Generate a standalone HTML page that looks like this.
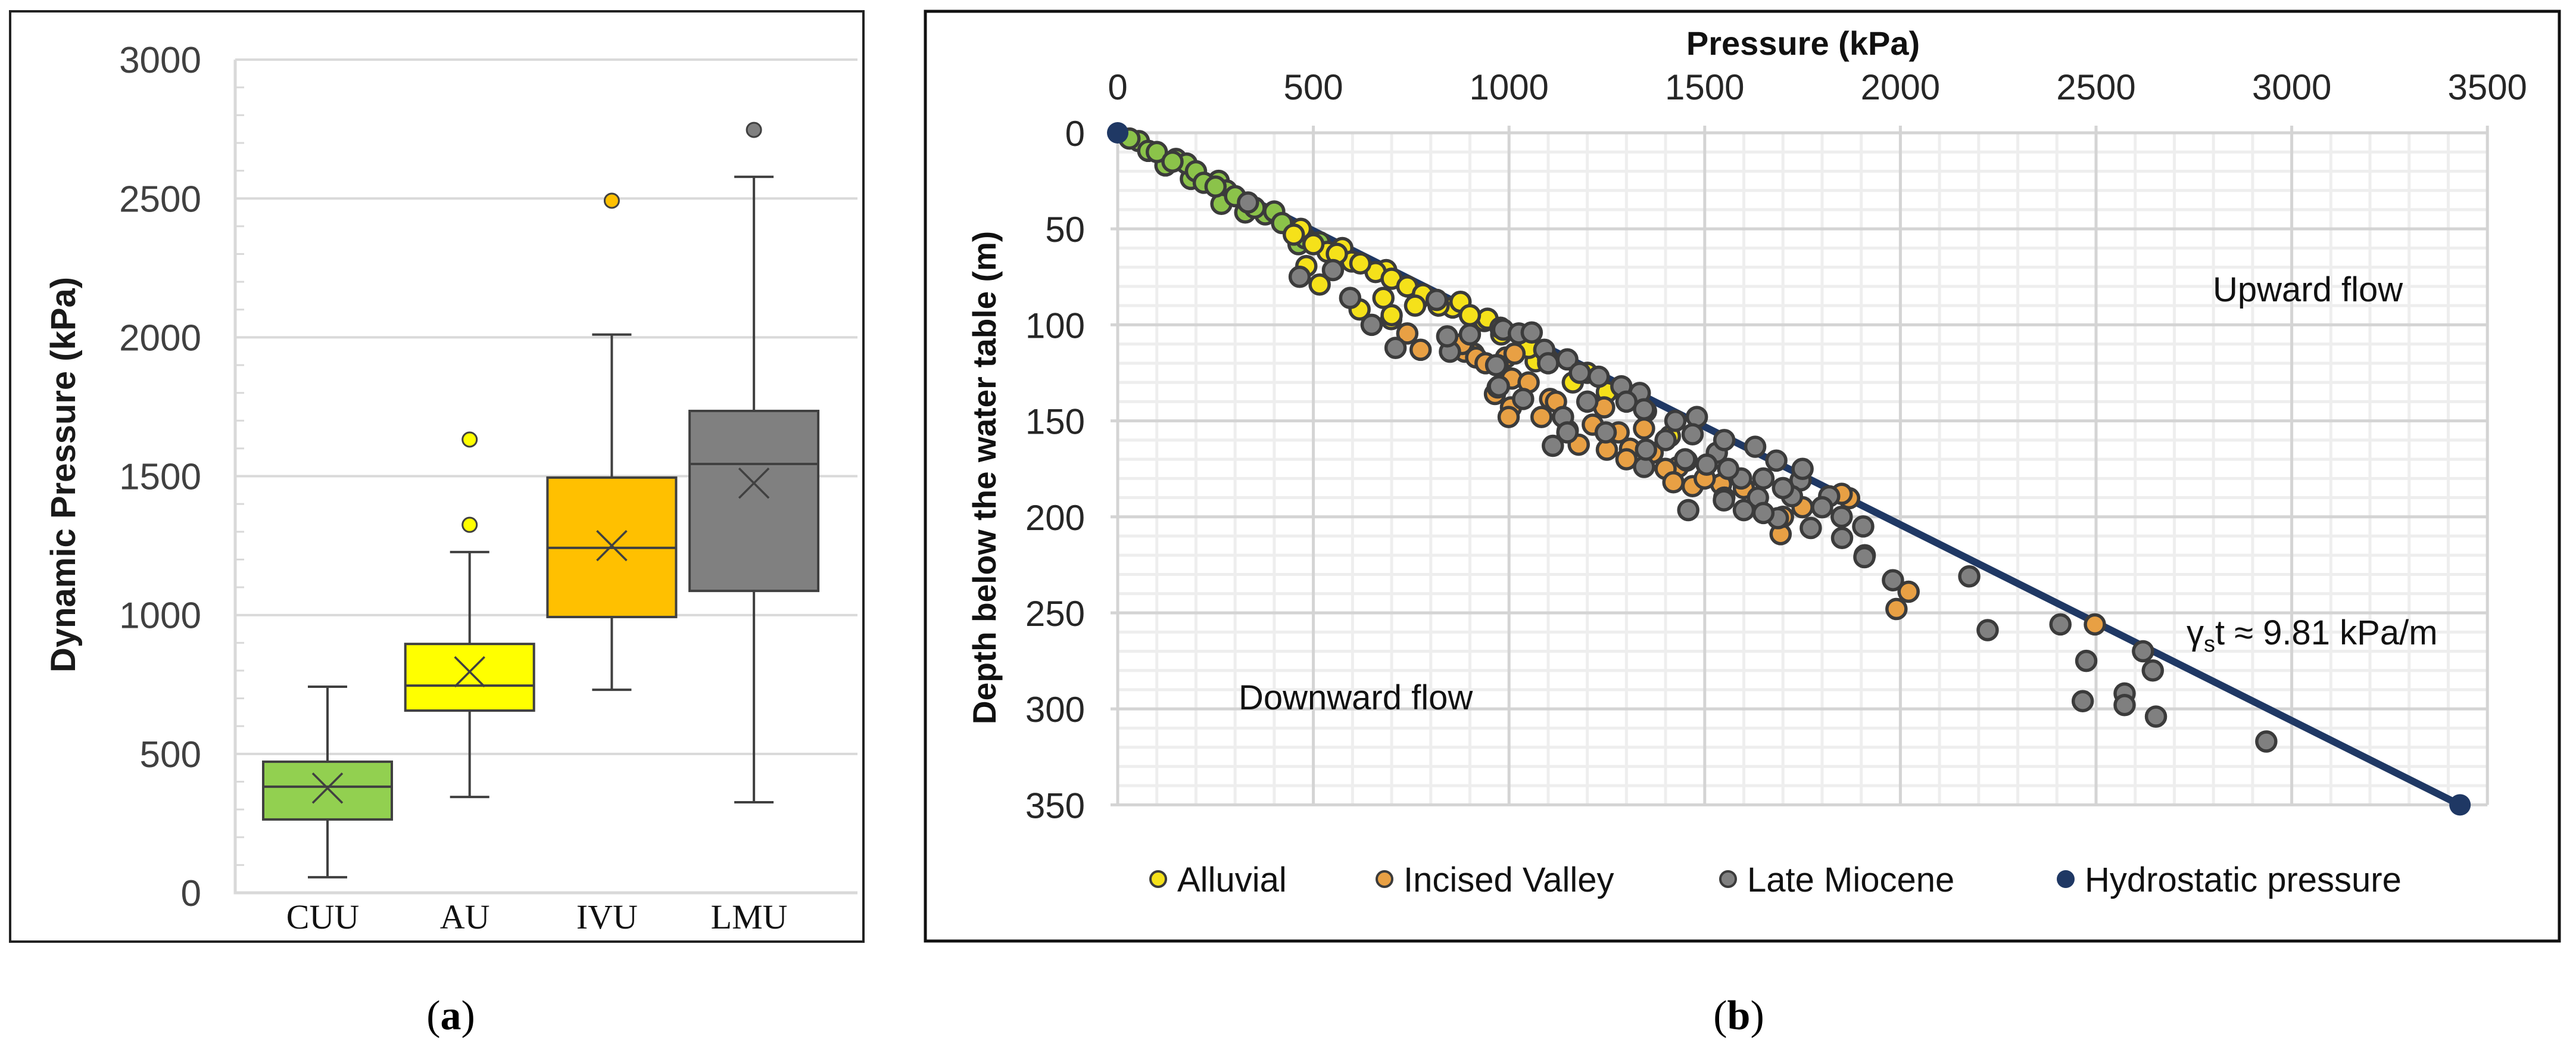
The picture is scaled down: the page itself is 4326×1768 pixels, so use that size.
<!DOCTYPE html>
<html><head><meta charset="utf-8"><style>
html,body{margin:0;padding:0;background:#fff;}
svg{display:block;}
text{font-family:"Liberation Sans",sans-serif;}
</style></head><body>
<svg id="root" width="4326" height="1768" viewBox="0 0 4326 1768" xmlns="http://www.w3.org/2000/svg">
<g id="pa"></g>
<g id="pb"></g>
</svg>
<script>
// ---------- Panel (a) data ----------
const boxCategories = ["CUU","AU","IVU","LMU"];
const boxMin = [56, 345, 731, 326];
const boxQ1 = [264, 656, 993, 1087];
const boxMedian = [382, 746, 1242, 1544];
const boxQ3 = [472, 896, 1495, 1735];
const boxMax = [742, 1227, 2010, 2578];
const boxMean = [377, 796, 1250, 1475];
const boxOutliers = [[], [1325, 1632], [2492], [2747]];
const boxColors = ["#92d050","#ffff00","#ffc000","#808080"];
const boxYTicks = [0,500,1000,1500,2000,2500,3000];

// ---------- Panel (b) data (pressure kPa, depth m) ----------
const cuuP = [54,78,122,149,187,176,258,278,265,326,377,400,462,516,30,100,140,200,220,300,350,420,480,250];
const cuuD = [4.3,9.4,17,13.6,24,16,25,30,37,41.5,42.5,41,58,57,3,10,15,20,26,33,39,47,55,28];
const alluvialP = [468,574,536,482,516,686,659,598,679,699,618,767,856,876,937,945,1068,1163,1411,450,500,560,620,700,740,780,820,900,980,1050,1100,1200,1250,1350,700,760];
const alluvialD = [50,60,62,69.4,79,71.5,72.5,67,86,97,92,87,91,88,98,96.8,119,130,158,53,58,63,68,76,80,84,90,95,105,112,118,125,135,145,95,90];
const incisedP = [774,740,910,992,964,1005,887,916,1014,1007,999,1083,1105,1214,1243,1345,1309,1367,1432,1469,1454,1542,1694,1869,1280,1178,2021,1990,2497,1050,1120,1150,1250,1300,1400,1500,1550,1600,1700,1750,1850,1420,880,940];
const incisedD = [113,104.5,115,117,136,143,114,117,115,128,148,148,138.6,152,143,154,164.5,166.6,174,184,170.7,183,209,190.3,156,162.4,239,248,256,130,140,155,165,170,175,180,190,185,200,195,188,182,110,120];
const mioceneP = [333,465,550,594,649,710,815,849,842,971,978,971,985,1025,1058,1090,1149,1181,1229,1287,1334,1345,967,974,1036,1138,1149,1112,1247,1345,1425,1480,1469,1531,1629,1683,1593,1745,1636,1549,1687,1600,1771,1818,1851,1905,1458,1909,1505,1723,1908,1981,2176,2223,2409,2475,2466,2573,2573,2620,2645,2653,2935,1300,1400,1560,1650,1700,1800,1850,1750,1650,1550,1200,1100,900,1350,1450];
const mioceneD = [36.3,75,71.5,86,100,112,87,114,106,121,101.5,132.6,102.5,104.5,104,113,118,125,127,132,135.5,144,121,132,138.6,148,156,163,156,174,150,148,157,166.6,163.5,170.7,180,181,190,191.4,200.7,196.5,205.8,189.3,211,205,196.5,220,172.8,189.3,221,233,231,259,256,275,296,292,298,270,280,304,317,140,160,175,180,185,195,200,175,198,160,140,120,105,165,170];
const hydroP = [0, 3430];
const hydroD = [0, 350];
const pXTicks = [0,500,1000,1500,2000,2500,3000,3500];
const pYTicks = [0,50,100,150,200,250,300,350];

const NS="http://www.w3.org/2000/svg";
function mk(parent, tag, attrs, txt){
  const e=document.createElementNS(NS,tag);
  for(const k in attrs) e.setAttribute(k,attrs[k]);
  if(txt!==undefined) e.textContent=txt;
  parent.appendChild(e); return e;
}
const pa=document.getElementById('pa');
const pb=document.getElementById('pb');

// ===== Panel A =====
const ay = v => 1499 - v*0.4663;
const ax = i => 550 + i*238.7;
let fr=mk(pa,'rect',{x:17,y:19,width:1433,height:1562,fill:'none',stroke:'#222',"stroke-width":4});


boxYTicks.forEach(v=>{
  if(v>0){
    const g=mk(pa,'line',{x1:395,x2:1440,y1:ay(v),y2:ay(v),stroke:'#d9d9d9',"stroke-width":4});
    
    
  }
  const t=mk(pa,'text',{x:338,y:ay(v)+22,"text-anchor":"end","font-size":62,fill:'#404040'},String(v));
  
  
});
for(let v=100; v<3000; v+=100){
  if(v%500===0) continue;
  const m=mk(pa,'line',{x1:395,x2:410,y1:ay(v),y2:ay(v),stroke:'#d9d9d9',"stroke-width":3});
  
  
}
let axl=mk(pa,'path',{d:`M395 ${ay(3000)} V${ay(0)} H1440`,fill:'none',stroke:'#d9d9d9',"stroke-width":5});


let yt=mk(pa,'text',{x:0,y:0,transform:'translate(126 797) rotate(-90)',"text-anchor":"middle","font-size":58,"font-weight":"bold",fill:'#1a1a1a'},'Dynamic Pressure (kPa)');


const ST='#404040';
boxCategories.forEach((c,i)=>{
  const cx=ax(i), hw=108, cw=33;
  const g=mk(pa,'g',{});
  
  
  mk(g,'line',{x1:cx,x2:cx,y1:ay(boxMax[i]),y2:ay(boxQ3[i]),stroke:ST,"stroke-width":4});
  mk(g,'line',{x1:cx,x2:cx,y1:ay(boxQ1[i]),y2:ay(boxMin[i]),stroke:ST,"stroke-width":4});
  mk(g,'line',{x1:cx-cw,x2:cx+cw,y1:ay(boxMax[i]),y2:ay(boxMax[i]),stroke:ST,"stroke-width":4});
  mk(g,'line',{x1:cx-cw,x2:cx+cw,y1:ay(boxMin[i]),y2:ay(boxMin[i]),stroke:ST,"stroke-width":4});
  mk(g,'rect',{x:cx-hw,y:ay(boxQ3[i]),width:hw*2,height:ay(boxQ1[i])-ay(boxQ3[i]),fill:boxColors[i],stroke:ST,"stroke-width":4});
  mk(g,'line',{x1:cx-hw,x2:cx+hw,y1:ay(boxMedian[i]),y2:ay(boxMedian[i]),stroke:ST,"stroke-width":4});
  const my=ay(boxMean[i]);
  mk(g,'path',{d:`M${cx-25} ${my-25} L${cx+25} ${my+25} M${cx+25} ${my-25} L${cx-25} ${my+25}`,stroke:ST,"stroke-width":3.5,fill:'none'});
  boxOutliers[i].forEach(o=>{
    const oc=mk(g,'circle',{cx:cx,cy:ay(o),r:12,fill:boxColors[i],stroke:ST,"stroke-width":3});
    
    
  });
  const t=mk(pa,'text',{x:cx-8,y:1559,"text-anchor":"middle","font-size":58,fill:'#111',style:'font-family:"Liberation Serif",serif'},c);
  
  
});
let ca=mk(pa,'text',{x:757,y:1728,"text-anchor":"middle","font-size":70,fill:'#000',style:'font-family:"Liberation Serif",serif'});


mk(ca,'tspan',{},'(');mk(ca,'tspan',{"font-weight":"bold"},'a');mk(ca,'tspan',{},')');

// ===== Panel B =====
const bx = p => 1877 + p*0.6572;
const by = d => 223 + d*3.224;
let fb=mk(pb,'rect',{x:1554,y:19,width:2744,height:1561,fill:'none',stroke:'#111',"stroke-width":5});


for(let p=100;p<3500;p+=100){ if(p%500===0) continue;
  const l=mk(pb,'line',{x1:bx(p),x2:bx(p),y1:by(0),y2:by(350),stroke:'#eeeeee',"stroke-width":5});
  
  
}
for(let d=10;d<350;d+=10){ if(d%50===0) continue;
  const l=mk(pb,'line',{x1:bx(0),x2:bx(3500),y1:by(d),y2:by(d),stroke:'#eeeeee',"stroke-width":5});
  
  
}
pXTicks.forEach(p=>{
  const l=mk(pb,'line',{x1:bx(p),x2:bx(p),y1:by(0)-12,y2:by(350),stroke:'#d4d4d4',"stroke-width":5});
  
  
  const t=mk(pb,'text',{x:bx(p),y:167,"text-anchor":"middle","font-size":60,fill:'#262626'},String(p));
  
  
});
pYTicks.forEach(d=>{
  const l=mk(pb,'line',{x1:bx(0)-12,x2:bx(3500),y1:by(d),y2:by(d),stroke:'#d4d4d4',"stroke-width":5});
  
  
  const t=mk(pb,'text',{x:1822,y:by(d)+22,"text-anchor":"end","font-size":60,fill:'#262626'},String(d));
  
  
});
let xt=mk(pb,'text',{x:3028,y:92,"text-anchor":"middle","font-size":56,"font-weight":"bold",fill:'#111'},'Pressure (kPa)');


let yt2=mk(pb,'text',{x:0,y:0,transform:'translate(1672 802) rotate(-90)',"text-anchor":"middle","font-size":55,"font-weight":"bold",fill:'#111'},'Depth below the water table (m)');


// hydrostatic line
let hl=mk(pb,'line',{x1:bx(hydroP[0]),y1:by(hydroD[0]),x2:bx(hydroP[1]),y2:by(hydroD[1]),stroke:'#1f3864',"stroke-width":12});


function series(P,D,fill,name){
  const g=mk(pb,'g',{});
  
  
  P.forEach((p,i)=>{
    const c=mk(g,'circle',{cx:bx(p),cy:by(D[i]),r:16,fill:fill,stroke:'#3b3b3b',"stroke-width":5.5});
    
    
  });
}
series(cuuP,cuuD,'#8bc34a','cuu');
series(alluvialP,alluvialD,'#f5e11a','alluvial');
series(incisedP,incisedD,'#e8a044','incised-valley');
series(mioceneP,mioceneD,'#808080','late-miocene');
hydroP.forEach((p,i)=>{
  const c=mk(pb,'circle',{cx:bx(p),cy:by(hydroD[i]),r:18,fill:'#1f3864'});
  
  
});
// annotations
let a1=mk(pb,'text',{x:3716,y:506,"font-size":58,fill:'#111'},'Upward flow');


let a2=mk(pb,'text',{x:2080,y:1191,"font-size":58,fill:'#111'},'Downward flow');


let a3=mk(pb,'text',{x:3672,y:1082,"font-size":58,fill:'#111'});


mk(a3,'tspan',{},'γ');mk(a3,'tspan',{"font-size":38,dy:12},'s');mk(a3,'tspan',{dy:-12},'t ≈ 9.81 kPa/m');
// legend
const legNames=["Alluvial","Incised Valley","Late Miocene","Hydrostatic pressure"];
const legFills=["#f5e11a","#e8a044","#808080","#1f3864"];
const legX=[1945,2325,2902,3469];
legNames.forEach((n,i)=>{
  const g=mk(pb,'g',{});
  
  
  mk(g,'circle',{cx:legX[i],cy:1476,r:i===3?15:13,fill:legFills[i],stroke:i===3?'none':'#3b3b3b',"stroke-width":4});
  mk(g,'text',{x:legX[i]+32,y:1497,"font-size":58,fill:'#111'},n);
});
let cb=mk(pb,'text',{x:2920,y:1728,"text-anchor":"middle","font-size":70,fill:'#000',style:'font-family:"Liberation Serif",serif'});


mk(cb,'tspan',{},'(');mk(cb,'tspan',{"font-weight":"bold"},'b');mk(cb,'tspan',{},')');
</script>
</body></html>
